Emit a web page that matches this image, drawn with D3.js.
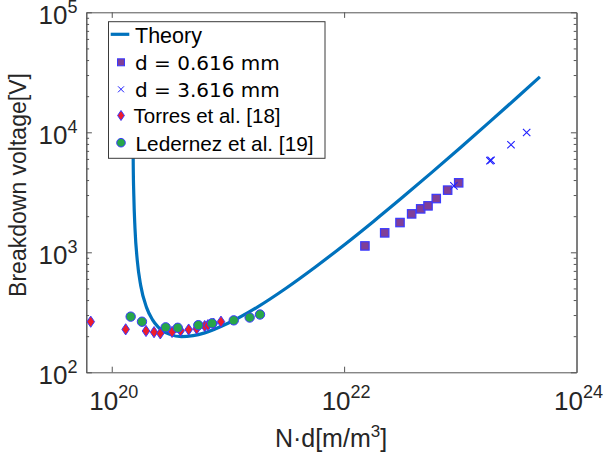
<!DOCTYPE html>
<html><head><meta charset="utf-8">
<script src="https://cdn.jsdelivr.net/npm/d3@7"></script>
<style>body{margin:0;background:#fff}svg{display:block}</style>
</head><body>
<svg id="chart" width="605" height="456"></svg>
<script>
// ---- data ----
const theoryNd = [1.514e20, 1.531e20, 1.549e20, 1.585e20, 1.660e20, 1.778e20, 1.995e20, 2.239e20, 2.512e20, 3.162e20, 3.981e20, 5.012e20, 6.310e20, 1e21, 1.778e21, 3.162e21, 5.623e21, 1e22, 1.778e22, 3.162e22, 5.623e22, 1e23, 1.778e23, 3.162e23, 4.842e23];
const theoryV  = [31750, 5353, 2953, 1584, 849, 525, 346, 275, 238, 207, 198, 202, 213, 256, 348, 502, 751, 1152, 1801, 2858, 4588, 7436, 12146, 19974, 28970];

const d0616Nd = [1.510e22, 2.234e22, 3.027e22, 3.811e22, 4.560e22, 5.272e22, 6.209e22, 7.780e22, 9.683e22];
const d0616V  = [1130, 1452, 1770, 2090, 2301, 2438, 2805, 3296, 3793];

const d3616Nd = [8.810e22, 1.799e23, 1.841e23, 2.729e23, 3.724e23];
const d3616V  = [3579, 5800, 5850, 7870, 9960];

const torresNd = [6.592e19, 1.318e20, 1.972e20, 2.312e20, 2.618e20, 3.304e20, 3.917e20, 4.592e20, 5.383e20, 6.310e20, 6.730e20, 7.534e20, 8.710e20];
const torresV  = [264, 228, 221, 216, 211, 217, 222, 227, 231, 243, 247, 254, 264];

const ledernezNd = [1.455e20, 1.820e20, 2.911e20, 3.698e20, 5.559e20, 7.295e20, 1.122e21, 1.538e21, 1.888e21];
const ledernezV  = [291, 264, 237, 235, 247, 256, 271, 286, 303];

const xMajorTicks = [1e20, 1e22, 1e24];
const yMajorTicks = [1e2, 1e3, 1e4, 1e5];
const legendLabels = ["Theory", "d = 0.616 mm", "d = 3.616 mm", "Torres et al. [18]", "Ledernez et al. [19]"];
const xTitle = "N·d[m/m";
const yTitle = "Breakdown voltage[V]";

// ---- layout ----
const svg = d3.select("#chart");
const L = 86.3, R = 576.5, T = 12.3, B = 372.3;
const x = d3.scaleLog().domain([Math.pow(10, 19.781), 1e24]).range([L, R]);
const y = d3.scaleLog().domain([1e2, 1e5]).range([B, T]);

const spineColor = "#555";
const textColor = "#262626";
const blue = "#0072BD";
const edge = "#3a3aff";

svg.append("rect").attr("width", 605).attr("height", 456).attr("fill", "#fff");

svg.append("defs").append("clipPath").attr("id", "clip")
  .append("rect").attr("x", L).attr("y", T).attr("width", R - L).attr("height", B - T);

// axes (inward ticks)
const yAll = y.ticks().filter(v => v >= 1e2 && v <= 1e5);
const yMinor = yAll.filter(v => !yMajorTicks.includes(v));

function styleAxis(g) {
  g.select(".domain").attr("stroke", spineColor).attr("stroke-width", 1);
  g.selectAll(".tick line").attr("stroke", spineColor).attr("stroke-width", 1);
  g.selectAll(".tick text").remove();
}
svg.append("g").attr("transform", `translate(0,${B})`)
  .call(d3.axisBottom(x).tickValues(xMajorTicks.filter(v => v < 1e24)).tickSizeInner(-5.6).tickSizeOuter(0)).call(styleAxis);
svg.append("g").attr("transform", `translate(0,${T})`)
  .call(d3.axisTop(x).tickValues(xMajorTicks.filter(v => v < 1e24)).tickSizeInner(-5.6).tickSizeOuter(0)).call(styleAxis);
svg.append("g").attr("transform", `translate(${L},0)`)
  .call(d3.axisLeft(y).tickValues(yMajorTicks).tickSizeInner(-5.6).tickSizeOuter(0)).call(styleAxis);
svg.append("g").attr("transform", `translate(${L},0)`)
  .call(d3.axisLeft(y).tickValues(yMinor).tickSizeInner(-2.8).tickSizeOuter(0)).call(styleAxis);
svg.append("g").attr("transform", `translate(${R},0)`)
  .call(d3.axisRight(y).tickValues(yMajorTicks).tickSizeInner(-5.6).tickSizeOuter(0)).call(styleAxis);
svg.append("g").attr("transform", `translate(${R},0)`)
  .call(d3.axisRight(y).tickValues(yMinor).tickSizeInner(-2.8).tickSizeOuter(0)).call(styleAxis);

// tick labels with superscripts
const tickFont = "'Liberation Sans', Arial, sans-serif";
yMajorTicks.forEach(v => {
  const e = Math.round(Math.log10(v));
  const t = svg.append("text").attr("x", 77.5).attr("y", y(v) + 11.5)
    .attr("text-anchor", "end").attr("fill", textColor).attr("font-family", tickFont).attr("font-size", 26);
  t.append("tspan").text("10");
  t.append("tspan").attr("dy", -10.5).attr("font-size", 18).text(e);
});
xMajorTicks.forEach(v => {
  const e = Math.round(Math.log10(v));
  const t = svg.append("text").attr("x", x(v) + 2).attr("y", 410)
    .attr("text-anchor", "middle").attr("fill", textColor).attr("font-family", tickFont).attr("font-size", 26);
  t.append("tspan").text("10");
  t.append("tspan").attr("dy", -12).attr("font-size", 18).text(e);
});

// axis titles
const xt = svg.append("text").attr("x", 331).attr("y", 447).attr("text-anchor", "middle")
  .attr("fill", textColor).attr("font-family", tickFont).attr("font-size", 25);
xt.append("tspan").text(xTitle);
xt.append("tspan").attr("dy", -10).attr("font-size", 17).text("3");
xt.append("tspan").attr("dy", 10).text("]");

svg.append("text").attr("transform", "translate(26,185) rotate(-90)").attr("text-anchor", "middle")
  .attr("fill", textColor).attr("font-family", tickFont).attr("font-size", 23).text(yTitle);

// ---- marks ----
const plot = svg.append("g").attr("clip-path", "url(#clip)");
const theory = theoryNd.map((d, i) => [d, theoryV[i]]);
plot.append("path").datum(theory)
  .attr("d", d3.line().x(d => x(d[0])).y(d => y(d[1])).curve(d3.curveMonotoneX))
  .attr("fill", "none").attr("stroke", blue).attr("stroke-width", 3.2);

const sq = d0616Nd.map((d, i) => [d, d0616V[i]]);
plot.selectAll(".sq").data(sq).join("rect")
  .attr("x", d => x(d[0]) - 4.2).attr("y", d => y(d[1]) - 4.2).attr("width", 8.4).attr("height", 8.4)
  .attr("fill", "#7f3f98").attr("stroke", edge).attr("stroke-width", 1.2);

const cr = d3616Nd.map((d, i) => [d, d3616V[i]]);
plot.selectAll(".cr").data(cr).join("path")
  .attr("transform", d => `translate(${x(d[0])},${y(d[1])})`)
  .attr("d", "M-3.7,-3.7L3.7,3.7M-3.7,3.7L3.7,-3.7")
  .attr("fill", "none").attr("stroke", "#2020ff").attr("stroke-width", 1.1);

const diamond = "M0,-5.6L3.8,0L0,5.6L-3.8,0Z";
const dm = torresNd.map((d, i) => [d, torresV[i]]);
plot.selectAll(".dm").data(dm).join("path")
  .attr("transform", d => `translate(${x(d[0])},${y(d[1])})`)
  .attr("d", diamond).attr("fill", "#ee1c2b").attr("stroke", edge).attr("stroke-width", 1);

const ci = ledernezNd.map((d, i) => [d, ledernezV[i]]);
plot.selectAll(".ci").data(ci).join("circle")
  .attr("cx", d => x(d[0])).attr("cy", d => y(d[1])).attr("r", 4.7)
  .attr("fill", "#27a64a").attr("stroke", edge).attr("stroke-width", 1);

// ---- legend ----
const lg = svg.append("g");
lg.append("rect").attr("x", 108.5).attr("y", 21.7).attr("width", 216.5).attr("height", 136.6)
  .attr("fill", "#fff").attr("stroke", "#3a3a3a").attr("stroke-width", 1);
const rowsY = [34.3, 62.3, 89.3, 115.5, 142.7];
const baseY = [42.7, 70, 96.7, 122.7, 150.5];
const mx = 121;
lg.append("line").attr("x1", 110.7).attr("x2", 129.3).attr("y1", rowsY[0]).attr("y2", rowsY[0])
  .attr("stroke", blue).attr("stroke-width", 3.2);
lg.append("rect").attr("x", mx - 3.5).attr("y", rowsY[1] - 3.5).attr("width", 7).attr("height", 7)
  .attr("fill", "#7f3f98").attr("stroke", edge).attr("stroke-width", 1);
lg.append("path").attr("transform", `translate(${mx},${rowsY[2]})`).attr("d", "M-3,-3L3,3M-3,3L3,-3")
  .attr("stroke", "#2020ff").attr("stroke-width", 1);
lg.append("path").attr("transform", `translate(${mx},${rowsY[3]})`).attr("d", "M0,-5L3.4,0L0,5L-3.4,0Z")
  .attr("fill", "#ee1c2b").attr("stroke", edge).attr("stroke-width", 1);
lg.append("circle").attr("cx", mx).attr("cy", rowsY[4]).attr("r", 4.3)
  .attr("fill", "#27a64a").attr("stroke", edge).attr("stroke-width", 1);
const legFonts = [
  ["'Liberation Sans', Arial, sans-serif", 21.5, 135],
  ["'DejaVu Sans', sans-serif", 20, 135],
  ["'DejaVu Sans', sans-serif", 20, 135],
  ["'Liberation Sans', Arial, sans-serif", 20.5, 133.5],
  ["'Liberation Sans', Arial, sans-serif", 20.8, 135.5]
];
legendLabels.forEach((s, i) => {
  lg.append("text").attr("x", legFonts[i][2]).attr("y", baseY[i])
    .attr("font-family", legFonts[i][0]).attr("font-size", legFonts[i][1])
    .attr("fill", "#000").text(s);
});
</script>
</body></html>
